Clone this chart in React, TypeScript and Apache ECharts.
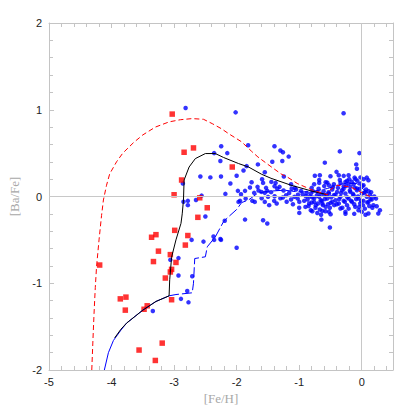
import React, { useEffect, useRef } from "react";
import * as echarts from "echarts";

const xTicks = [-5, -4, -3, -2, -1, 0];
const yTicks = [-2, -1, 0, 1, 2];

const redSquares: number[][] = [
  [-3.03, 0.95], [-2.84, 0.51], [-2.69, 0.56], [-2.07, 0.34], [-2.88, 0.19],
  [-3.0, 0.02], [-2.59, -0.015], [-2.47, -0.13], [-2.62, -0.24], [-2.99, -0.39],
  [-2.78, -0.45], [-3.29, -0.44], [-3.36, -0.47], [-2.82, -0.56], [-3.25, -0.63],
  [-3.06, -0.67], [-3.33, -0.75], [-2.97, -0.76], [-4.19, -0.79], [-3.04, -0.84],
  [-3.06, -0.87], [-3.14, -0.94], [-3.86, -1.18], [-3.77, -1.16], [-3.78, -1.31],
  [-3.43, -1.26], [-3.48, -1.3], [-3.04, -1.19], [-3.19, -1.69], [-3.56, -1.77],
  [-3.3, -1.89],
];

const blueSparse: number[][] = [
  [-2.816, 1.02], [-2.016, 0.97], [-0.29, 0.96], [-1.816, 0.59], [-1.395, 0.58],
  [-2.247, 0.58], [-1.3, 0.53], [-1.26, 0.51], [-0.35, 0.52], [-0.037, 0.5],
  [-2.15, 0.5], [-2.36, 0.5], [-1.168, 0.46], [-2.26, 0.41], [-2.25, 0.23],
  [-2.58, 0.23], [-2.42, 0.22], [-2.86, 0.15], [-2.1, 0.15], [-2.18, 0.03],
  [-2.56, 0.01], [-2.65, -0.04], [-2.85, -0.06], [-2.78, -0.05], [-2.78, -0.1],
  [-2.5, -0.23], [-2.19, -0.28], [-2.53, -0.52], [-2.72, -0.5], [-2.37, -0.46],
  [-2.36, -0.5], [-2.26, -0.49], [-2.25, -0.5], [-2.0, -0.59], [-2.93, -0.71],
  [-3.06, -0.73], [-2.93, -0.91], [-2.71, -0.92], [-2.79, -1.09], [-2.89, -1.18],
  [-2.77, -1.22], [-3.34, -1.32],
];

const blueCluster: number[][] = [
  [-1.66, 0.37], [-1.43, 0.4], [-1.27, 0.41], [-0.59, 0.39], [-0.088, 0.37],
  [-0.077, 0.32], [-1.84, 0.35], [-1.89, 0.3], [-2.0, 0.24], [-1.55, 0.28],
  [-1.245, 0.23], [-0.75, 0.24], [-0.67, 0.245], [-0.5, 0.234], [-0.403, 0.284],
  [-0.367, 0.245], [-0.288, 0.238], [-0.21, 0.245], [-0.114, 0.218], [-0.235, 0.18],
  [-0.21, 0.149], [0.081, 0.218], [0.107, 0.188], [-1.593, 0.199], [-1.577, 0.157],
  [-1.445, 0.168], [-1.377, 0.157], [-1.393, 0.118], [-1.761, 0.165], [-1.666, 0.111],
  [-1.787, 0.103], [-1.866, 0.065], [-1.98, 0.065], [-1.93, 0.026], [-1.72, 0.042],
  [-1.603, 0.053], [-1.55, 0.042], [-1.51, 0.065], [-1.314, 0.111], [-1.13, 0.142],
  [-1.05, 0.08], [-0.97, 0.065], [-0.761, 0.142], [-0.68, 0.157], [-0.577, 0.165],
  [-0.524, 0.13], [-0.445, 0.142], [-0.34, 0.157], [-0.288, 0.118], [-0.261, 0.168],
  [-0.182, 0.111], [-0.13, 0.142], [-0.077, 0.092], [-0.024, 0.149], [0.028, 0.13],
  [-1.945, -0.05], [-1.97, -0.062], [-1.856, -0.024], [-1.71, -0.062], [-1.55, -0.062],
  [-1.498, -0.004], [-1.393, 0.003], [-1.261, -0.012], [-1.209, 0.015], [-1.13, -0.035],
  [-1.077, -0.004], [-1.024, -0.024], [-0.998, -0.062], [-0.945, 0.026], [-0.893, 0.003],
  [-0.866, -0.035], [-0.84, -0.081], [-0.814, 0.034], [-0.787, -0.012], [-0.761, -0.062],
  [-0.735, -0.1], [-0.709, 0.053], [-0.682, -0.004], [-0.656, -0.043], [-0.63, -0.081],
  [-0.603, 0.015], [-0.577, -0.12], [-0.551, -0.024], [-0.524, 0.034], [-0.498, -0.074],
  [-0.472, 0.08], [-0.445, 0.015], [-0.419, -0.043], [-0.393, 0.053], [-0.367, -0.081],
  [-0.34, -0.004], [-0.314, 0.072], [-0.288, -0.05], [-0.261, 0.034], [-0.235, -0.1],
  [-0.209, -0.024], [-0.182, 0.053], [-0.156, -0.062], [-0.13, 0.015], [-0.103, -0.12],
  [-0.077, 0.072], [-0.051, -0.024], [-0.024, -0.081], [0.002, 0.034], [0.028, -0.05],
  [0.055, 0.053], [0.081, -0.004], [0.107, -0.062], [0.134, 0.015], [0.16, -0.035],
  [0.186, -0.1], [0.228, -0.024], [0.239, -0.112], [0.291, -0.158], [0.265, -0.196],
  [-0.998, -0.189], [-0.814, -0.158], [-0.63, -0.166], [-0.524, -0.177], [-0.498, -0.204],
  [-0.34, -0.139], [-0.261, -0.177], [-0.051, -0.158], [0.002, -0.177], [-1.866, -0.266],
  [-1.577, -0.273], [-1.51, -0.312], [-0.645, -0.266], [-0.509, -0.358], [0.107, -0.196],
  [-0.92, -0.05], [-0.88, 0.04], [-0.85, -0.11], [-0.83, 0.0], [-0.8, -0.07],
  [-0.78, 0.06], [-0.76, -0.02], [-0.74, -0.13], [-0.72, 0.01], [-0.7, -0.08],
  [-0.69, 0.09], [-0.67, -0.15], [-0.66, 0.03], [-0.64, -0.05], [-0.62, -0.1],
  [-0.61, 0.06], [-0.59, -0.03], [-0.58, -0.17], [-0.56, 0.02], [-0.54, -0.09],
  [-0.53, 0.05], [-0.51, -0.13], [-0.49, -0.01], [-0.47, -0.06], [-0.46, 0.11],
  [-0.44, -0.1], [-0.71, -0.19], [-0.65, -0.21], [-0.79, -0.17], [-0.9, -0.12],
  [-0.6, 0.12], [-0.55, 0.16], [-0.68, 0.19], [-0.8, 0.1],
  [-0.42, 0.02], [-0.4, -0.09], [-0.38, 0.1], [-0.36, -0.03], [-0.33, 0.04],
  [-0.31, -0.13], [-0.29, 0.09], [-0.27, -0.06], [-0.25, 0.12], [-0.23, -0.01],
  [-0.21, -0.14], [-0.19, 0.07], [-0.17, -0.05], [-0.16, 0.17], [-0.14, 0.03],
  [-0.12, -0.09], [-0.11, 0.1], [-0.09, -0.03], [-0.07, 0.18], [-0.06, 0.0],
  [-0.04, -0.12], [-0.03, 0.09], [-0.01, -0.05], [0.01, 0.12], [0.02, -0.1],
  [0.04, 0.04], [0.05, -0.14], [0.07, 0.08], [0.09, -0.07], [0.11, 0.06],
  [0.12, -0.11], [0.14, -0.03], [0.15, 0.05], [0.17, -0.13], [0.2, 0.0],
  [-0.02, 0.22], [0.03, 0.2], [-0.1, 0.2], [-0.26, -0.2], [-0.12, -0.2],
  [0.06, -0.21], [-0.35, 0.19], [-0.2, 0.2],
  [-1.45, 0.05], [-1.4, -0.05], [-1.35, 0.09], [-1.3, -0.02], [-1.25, 0.07],
  [-1.2, -0.06], [-1.16, 0.04], [-1.1, -0.09], [-1.07, 0.1], [-1.02, 0.02],
  [-1.0, -0.13], [-1.6, -0.02], [-1.65, 0.07], [-1.75, -0.05], [-1.53, 0.1],
  [-1.48, -0.1], [-1.36, -0.08], [-1.12, 0.09],
];

const redDashedCurve: number[][] = [
  [-4.316, -2], [-4.3, -1.7], [-4.28, -1.35], [-4.26, -1.05], [-4.24, -0.81],
  [-4.2, -0.5], [-4.16, -0.22], [-4.13, -0.04], [-4.08, 0.13], [-4.03, 0.26],
  [-3.92, 0.4], [-3.82, 0.5], [-3.65, 0.62], [-3.5, 0.71], [-3.3, 0.8],
  [-3.08, 0.86], [-2.9, 0.885], [-2.71, 0.898], [-2.53, 0.89], [-2.39, 0.84],
  [-2.24, 0.78], [-2.13, 0.725], [-1.92, 0.63], [-1.76, 0.52], [-1.66, 0.456],
  [-1.5, 0.37], [-1.29, 0.26], [-1.18, 0.22], [-1.03, 0.15], [-0.81, 0.08],
  [-0.55, 0.02], [-0.5, 0.08], [-0.39, 0.13], [-0.18, 0.11], [0.13, 0.0],
];

const blackCurve: number[][] = [
  [-3.95, -1.63], [-3.85, -1.53], [-3.76, -1.46], [-3.5, -1.31], [-3.29, -1.21],
  [-3.08, -1.145], [-3.07, -0.96], [-3.04, -0.7], [-2.97, -0.5], [-2.89, -0.31],
  [-2.87, -0.2], [-2.85, -0.04], [-2.84, 0.19], [-2.76, 0.34], [-2.66, 0.437],
  [-2.5, 0.495], [-2.34, 0.495], [-2.21, 0.45], [-1.97, 0.38], [-1.81, 0.34],
  [-1.6, 0.256], [-1.45, 0.21], [-1.13, 0.13], [-0.81, 0.065], [-0.55, 0.02],
];

const blueSolidCurve: number[][] = [
  [-4.115, -2], [-4.05, -1.8], [-3.97, -1.66], [-3.85, -1.54], [-3.76, -1.46],
  [-3.5, -1.31], [-3.29, -1.21], [-3.08, -1.145],
];

const blueDashedCurve: number[][] = [
  [-3.08, -1.145], [-2.97, -1.13], [-2.71, -1.11], [-2.69, -1.0], [-2.67, -0.715],
  [-2.5, -0.695], [-2.47, -0.58], [-2.34, -0.465], [-2.21, -0.29], [-2.13, -0.234],
  [-2.0, -0.15], [-1.92, -0.07], [-1.81, -0.04], [-1.66, 0.04], [-1.5, 0.06],
  [-1.236, 0.073], [-1.03, 0.054], [-0.815, 0.054], [-0.55, 0.092], [-0.29, 0.15],
  [-0.078, 0.15], [0.16, 0.0],
];

const axisGray = "#c4c4c4";

function baseAxis(extra: any) {
  return {
    type: "value",
    splitLine: { show: false },
    axisLine: { show: true, onZero: false, lineStyle: { color: axisGray, width: 1 } },
    axisTick: { show: true, inside: true, length: 5, lineStyle: { color: axisGray } },
    minorTick: { show: true, splitNumber: 5, length: 4, lineStyle: { color: axisGray } },
    ...extra,
  };
}

export default function App() {
  const ref = useRef<HTMLDivElement>(null);
  useEffect(() => {
    if (!ref.current) return;
    const chart = echarts.init(ref.current, undefined, { renderer: "svg" });
    const labelStyle = {
      color: "#222",
      fontSize: 11,
      fontFamily: "Liberation Sans, Arial, sans-serif",
    };
    const nameStyle = {
      color: "#a8a8a8",
      fontSize: 13,
      fontFamily: "Liberation Serif, DejaVu Serif, serif",
    };
    const xFmt = (v: number) => (xTicks.includes(Math.round(v * 1000) / 1000) ? String(Math.round(v)) : "");
    const yFmt = (v: number) => (yTicks.includes(Math.round(v * 1000) / 1000) ? String(Math.round(v)) : "");
    chart.setOption({
      animation: false,
      backgroundColor: "#fff",
      grid: { left: 45, right: 22, top: 23, bottom: 45 },
      xAxis: [
        baseAxis({
          min: -5, max: 0.5, interval: 1, position: "bottom",
          axisLabel: { ...labelStyle, margin: 6, formatter: xFmt },
          name: "[Fe/H]", nameLocation: "middle", nameGap: 22, nameTextStyle: nameStyle,
        }),
        baseAxis({
          min: -5, max: 0.5, interval: 1, position: "top",
          axisLabel: { show: false },
        }),
      ],
      yAxis: [
        baseAxis({
          min: -2, max: 2, interval: 1, position: "left",
          axisLabel: { ...labelStyle, margin: 7, formatter: yFmt },
          name: "[Ba/Fe]", nameLocation: "middle", nameGap: 28, nameTextStyle: nameStyle,
        }),
        baseAxis({
          min: -2, max: 2, interval: 1, position: "right",
          axisLabel: { show: false },
        }),
      ],
      series: [
        {
          type: "line", data: [], silent: true, z: 1,
          markLine: {
            silent: true, symbol: ["none", "none"], animation: false,
            label: { show: false },
            lineStyle: { color: "#c8c8c8", type: "solid", width: 1 },
            data: [{ xAxis: 0 }, { yAxis: 0 }],
          },
        },
        {
          type: "scatter", data: blueSparse.concat(blueCluster), symbol: "circle", symbolSize: 4.5,
          itemStyle: { color: "#0000ff" }, z: 2,
        },
        {
          type: "scatter", data: redSquares, symbol: "rect", symbolSize: 5.5,
          itemStyle: { color: "#ff0000" }, z: 3,
        },
        {
          type: "line", data: blueSolidCurve, showSymbol: false, z: 4,
          lineStyle: { color: "#0000ff", width: 1 },
        },
        {
          type: "line", data: blueDashedCurve, showSymbol: false, z: 4,
          lineStyle: { color: "#0000ff", width: 1, type: [10, 3] },
        },
        {
          type: "line", data: blackCurve, showSymbol: false, z: 5,
          lineStyle: { color: "#000000", width: 1 },
        },
        {
          type: "line", data: redDashedCurve, showSymbol: false, z: 5,
          lineStyle: { color: "#ff0000", width: 1, type: [5, 3] },
        },
      ],
    });
    return () => chart.dispose();
  }, []);
  return (
    <div
      ref={ref}
      style={{ position: "fixed", left: 0, top: 0, width: 415, height: 415, background: "#fff" }}
    />
  );
}
